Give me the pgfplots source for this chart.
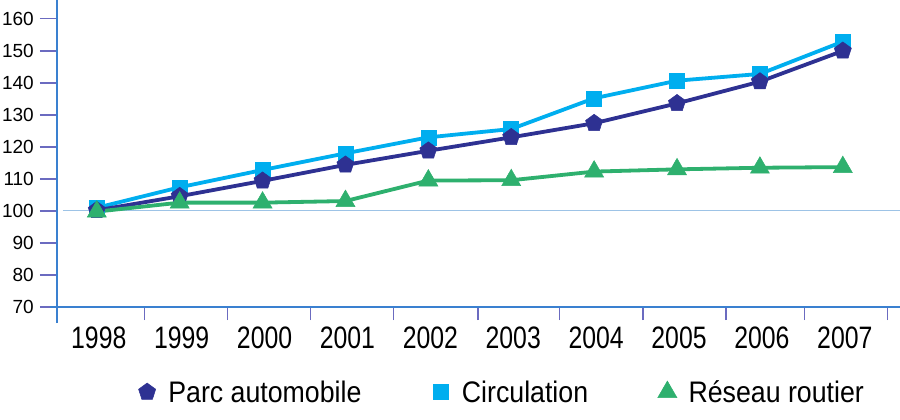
\documentclass[border=0pt]{standalone}
\usepackage{fontspec}
\setmainfont{Liberation Sans}
\newfontfamily\xlabfont[FakeStretch=0.8]{Liberation Sans}
\newfontfamily\legfont[FakeStretch=0.9]{Liberation Sans}
\usepackage{pgfplots}
\pgfplotsset{compat=1.18}
\definecolor{parc}{HTML}{2E3192}
\definecolor{circ}{HTML}{00AEEF}
\definecolor{reseau}{HTML}{2EB06E}
\definecolor{axisblue}{HTML}{3A80D0}
\definecolor{tickpurple}{HTML}{6B6BC0}
\definecolor{hundred}{HTML}{9DC3E6}
\begin{document}
\begin{tikzpicture}
\path[use as bounding box, fill=white] (-57bp,-113bp) rectangle (843bp,307bp);
\begin{axis}[
  at={(0bp,0bp)}, anchor=south west,
  scale only axis, width=843bp, height=307bp,
  xmin=-0.48, xmax=9.69, ymin=70, ymax=165.9,
  axis lines=left,
  axis line style={-, color=axisblue, line width=1.6bp},
  x axis line style={shorten <=-7bp},
  y axis line style={shorten <=-16bp},
  clip=false,
  tick align=outside,
  major tick length=17bp,
  minor tick length=13bp,
  ytick={70,80,...,160},
  ytick style={color=tickpurple, line width=1.2bp},
  xtick={0,...,9},
  xticklabels={1998,1999,2000,2001,2002,2003,2004,2005,2006,2007},
  major x tick style={draw=none},
  minor xtick={0.58,1.58,2.58,3.58,4.6,5.58,6.59,7.59,8.54,9.54},
  minor x tick style={draw=tickpurple, line width=1.2bp},
  /pgf/number format/assume math mode=true,
  yticklabel style={font=\fontsize{19bp}{23bp}\selectfont, anchor=east, inner sep=0pt, xshift=-6bp},
  xticklabel style={font=\xlabfont\fontsize{31bp}{36bp}\selectfont, anchor=north, inner sep=0pt, yshift=-3bp, xshift=2bp},
  legend columns=3,
  legend style={at={(0.526,-0.277)}, anchor=center, draw=none, fill=none,
    font=\legfont\fontsize{29.7bp}{34bp}\selectfont,
    /tikz/every even column/.append style={column sep=65bp},
    nodes={inner sep=2bp}},
  legend image code/.code={\draw[#1] plot coordinates {(0bp,0bp)}; \path (-12bp,0bp) (19bp,0bp);},
]
\addplot[forget plot, color=hundred, line width=1bp] coordinates {(-0.41,100) (9.69,100)};
\addplot[forget plot, color=circ, line width=3.8bp, mark=square*, mark size=7.5bp, mark options={fill=circ, line width=0.5bp}] coordinates {
(0,101.0) (1,107.4) (2,112.8) (3,118.0) (4,123.0) (5,125.6) (6,135.2) (7,140.7) (8,142.8) (9,152.9)};
\addplot[forget plot, color=parc, line width=3.8bp, mark=pentagon*, mark size=9bp, mark options={fill=parc, line width=0.5bp}] coordinates {
(0,100.2) (1,104.6) (2,109.4) (3,114.4) (4,118.8) (5,123.0) (6,127.4) (7,133.6) (8,140.4) (9,150.0)};
\addplot[forget plot, color=reseau, line width=3.8bp, mark=triangle*, mark size=11bp, mark options={fill=reseau, line width=0.5bp}] coordinates {
(0,99.8) (1,102.6) (2,102.6) (3,103.1) (4,109.5) (5,109.6) (6,112.3) (7,113.0) (8,113.5) (9,113.7)};
\addlegendimage{only marks, mark=pentagon*, mark size=9bp, color=parc, mark options={fill=parc, line width=0.5bp}}
\addlegendimage{only marks, mark=square*, mark size=7.5bp, color=circ, mark options={fill=circ, line width=0.5bp}}
\addlegendimage{only marks, mark=triangle*, mark size=11bp, color=reseau, mark options={fill=reseau, line width=0.5bp}}
\legend{Parc automobile, Circulation, Réseau routier}
\end{axis}
\end{tikzpicture}
\end{document}
